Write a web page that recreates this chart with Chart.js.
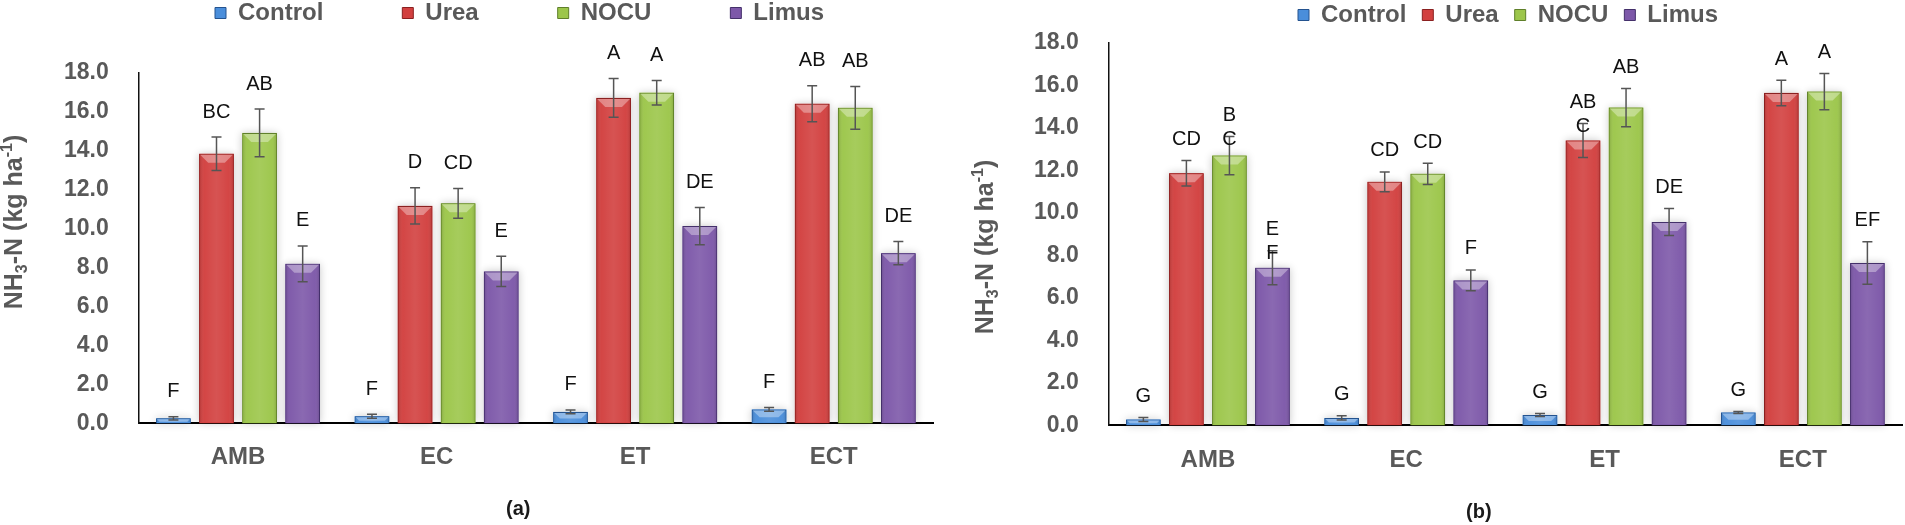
<!DOCTYPE html>
<html>
<head>
<meta charset="utf-8">
<script src="https://cdn.jsdelivr.net/npm/chart.js@4.4.1/dist/chart.umd.min.js"></script>
<style>
body { margin: 0; background: #fff; width: 1905px; height: 525px; overflow: hidden; position: relative; font-family: "Liberation Sans", Arial, sans-serif; }
canvas { position: absolute; top: 0; }
#chartA { left: 0; }
#chartB { left: 955px; }
.cap { position: absolute; font-weight: bold; font-size: 20px; color: #1a1a1a; }
</style>
</head>
<body>
<canvas id="chartA" width="950" height="525"></canvas>
<canvas id="chartB" width="950" height="525"></canvas>
<div class="cap" style="left:506px;top:497px">(a)</div>
<div class="cap" style="left:1466px;top:500px">(b)</div>
<script>
const categories = ['AMB', 'EC', 'ET', 'ECT']
const seriesNames = ['Control', 'Urea', 'NOCU', 'Limus']

// (a)
const controlA = [0.25, 0.36, 0.58, 0.71]
const ureaA = [13.85, 11.17, 16.72, 16.42]
const nocuA = [14.92, 11.3, 16.99, 16.21]
const limusA = [8.19, 7.8, 10.13, 8.74]
const controlErrA = [0.08, 0.1, 0.1, 0.1]
const ureaErrA = [0.86, 0.93, 1.0, 0.92]
const nocuErrA = [1.23, 0.76, 0.63, 1.1]
const limusErrA = [0.92, 0.78, 0.96, 0.6]
const controlLetA = ['F', 'F', 'F', 'F']
const ureaLetA = ['BC', 'D', 'A', 'AB']
const nocuLetA = ['AB', 'CD', 'A', 'AB']
const limusLetA = ['E', 'E', 'DE', 'DE']

// (b)
const controlB = [0.27, 0.34, 0.48, 0.6]
const ureaB = [11.87, 11.46, 13.41, 15.65]
const nocuB = [12.7, 11.84, 14.96, 15.71]
const limusB = [7.41, 6.82, 9.57, 7.64]
const controlErrB = [0.09, 0.1, 0.07, 0.05]
const ureaErrB = [0.6, 0.47, 0.8, 0.6]
const nocuErrB = [0.9, 0.5, 0.9, 0.85]
const limusErrB = [0.8, 0.49, 0.64, 1.0]
const controlLetB = ['G', 'G', 'G', 'G']
const ureaLetB = ['CD', 'CD', 'AB\nC', 'A']
const nocuLetB = ['B\nC', 'CD', 'AB', 'A']
const limusLetB = ['E\nF', 'F', 'DE', 'EF']

const yMin = 0, yMax = 18, yStep = 2

const fills = ['#4a8edb', '#d2403f', '#9cc64a', '#7d58a9']
const edges = ['#24538f', '#8a2020', '#5f7f2a', '#44306a']
const fontName = '"Liberation Sans", Arial, sans-serif'

Chart.defaults.font.family = fontName

function barBox (bar) {
    const p = bar.getProps(['x', 'y', 'base', 'width'], true)
    return {l: p.x - p.width / 2, r: p.x + p.width / 2, t: Math.min(p.y, p.base), b: Math.max(p.y, p.base), x: p.x, w: p.width}
}

// Excel-ish look: soft shadow, bevelled top, error bars and letters
const barLook = {
    id: 'barLook',
    beforeDatasetsDraw (chart) {
        const ctx = chart.ctx
        chart.data.datasets.forEach((ds, di) => {
            chart.getDatasetMeta(di).data.forEach(bar => {
                const b = barBox(bar)
                ctx.save()
                ctx.shadowColor = 'rgba(0,0,0,0.22)'
                ctx.shadowBlur = 8
                ctx.fillStyle = fills[di]
                ctx.fillRect(b.l, b.t, b.w, b.b - b.t)
                ctx.restore()
            })
        })
    },
    afterDatasetsDraw (chart, args, opts) {
        const ctx = chart.ctx
        const yScale = chart.scales.y
        chart.data.datasets.forEach((ds, di) => {
            chart.getDatasetMeta(di).data.forEach((bar, i) => {
                const b = barBox(bar)
                const hgt = b.b - b.t
                ctx.save()
                const g = ctx.createLinearGradient(b.l, 0, b.r, 0)
                g.addColorStop(0, 'rgba(0,0,0,0.16)')
                g.addColorStop(0.15, 'rgba(255,255,255,0.03)')
                g.addColorStop(0.5, 'rgba(255,255,255,0.1)')
                g.addColorStop(0.85, 'rgba(255,255,255,0.03)')
                g.addColorStop(1, 'rgba(0,0,0,0.16)')
                ctx.fillStyle = g
                ctx.fillRect(b.l + 1, b.t + 1, b.w - 2, hgt - 2)
                const h = Math.min(8, hgt / 2)
                ctx.fillStyle = 'rgba(255,255,255,0.35)'
                ctx.beginPath()
                ctx.moveTo(b.l + 1, b.t + 1)
                ctx.lineTo(b.r - 1, b.t + 1)
                ctx.lineTo(b.r - 1 - h, b.t + 1 + h)
                ctx.lineTo(b.l + 1 + h, b.t + 1 + h)
                ctx.closePath()
                ctx.fill()

                const v = ds.data[i]
                const e = opts.errors[di][i]
                const yt = yScale.getPixelForValue(v + e)
                const yb = yScale.getPixelForValue(v - e)
                ctx.strokeStyle = '#555'
                ctx.lineWidth = 1.5
                ctx.beginPath()
                ctx.moveTo(b.x, yt); ctx.lineTo(b.x, yb)
                ctx.moveTo(b.x - 5, yt); ctx.lineTo(b.x + 5, yt)
                ctx.moveTo(b.x - 5, yb); ctx.lineTo(b.x + 5, yb)
                ctx.stroke()

                ctx.fillStyle = '#111'
                ctx.font = '20px ' + fontName
                ctx.textAlign = 'center'
                ctx.textBaseline = 'middle'
                opts.letters[di][i].split('\n').forEach((line, k) => {
                    ctx.fillText(line, b.x, yt - opts.gap + k * 24)
                })
                ctx.restore()
            })
        })
    }
}

// rotated axis title with sub/superscript
const yTitle = {
    id: 'yTitle',
    afterDraw (chart, args, opts) {
        const ctx = chart.ctx
        const big = 'bold 25px ' + fontName
        const small = 'bold 16px ' + fontName
        const parts = [['NH', big, 0], ['3', small, 5], ['-N (kg ha', big, 0], ['-1', small, -10], [')', big, 0]]
        ctx.save()
        let total = 0
        parts.forEach(p => { ctx.font = p[1]; total += ctx.measureText(p[0]).width })
        ctx.translate(opts.x, opts.y)
        ctx.rotate(-Math.PI / 2)
        ctx.fillStyle = '#595959'
        ctx.textBaseline = 'alphabetic'
        let x = -total / 2
        parts.forEach(p => {
            ctx.font = p[1]
            ctx.fillText(p[0], x, 9 + p[2])
            x += ctx.measureText(p[0]).width
        })
        ctx.restore()
    }
}

// put the legend row where the original has it
const legendSpot = {
    id: 'legendSpot',
    afterLayout (chart, args, opts) {
        const lg = chart.legend
        const pad = chart.options.plugins.legend.labels.padding
        lg.left = opts.x - pad
        lg.right = chart.width
        lg.top = opts.y - 12 - pad
        lg.bottom = opts.y + 20
    }
}

function makeChart (id, series, errors, letters, cfg) {
    const datasets = series.map((vals, i) => ({
        label: seriesNames[i],
        data: vals,
        backgroundColor: fills[i],
        borderColor: edges[i],
        borderWidth: 1,
        categoryPercentage: 0.868,
        barPercentage: 0.805
    }))
    return new Chart(document.getElementById(id), {
        type: 'bar',
        data: {labels: categories, datasets: datasets},
        plugins: [barLook, yTitle, legendSpot],
        options: {
            responsive: false,
            animation: false,
            devicePixelRatio: 1,
            layout: {padding: cfg.padding},
            plugins: {
                tooltip: {enabled: false},
                legend: {
                    position: 'top',
                    align: 'start',
                    maxHeight: cfg.legendHeight,
                    labels: {
                        boxWidth: 11,
                        boxHeight: 11,
                        padding: cfg.legendGap,
                        color: '#595959',
                        font: {size: 24, weight: 'bold'}
                    }
                },
                barLook: {errors: errors, letters: letters, gap: cfg.letterGap},
                yTitle: cfg.title,
                legendSpot: cfg.legend
            },
            scales: {
                x: {
                    grid: {display: false},
                    border: {display: true, color: '#000', width: 2},
                    ticks: {color: '#595959', padding: cfg.xPad, font: {size: 24, weight: 'bold'}}
                },
                y: {
                    min: yMin,
                    max: yMax,
                    grid: {display: false},
                    border: {display: true, color: '#111', width: 1.5},
                    ticks: {
                        stepSize: yStep,
                        color: '#595959',
                        padding: 22,
                        font: {size: 23, weight: 'bold'},
                        callback: v => v.toFixed(1)
                    }
                }
            }
        }
    })
}

makeChart('chartA',
    [controlA, ureaA, nocuA, limusA],
    [controlErrA, ureaErrA, nocuErrA, limusErrA],
    [controlLetA, ureaLetA, nocuLetA, limusLetA],
    {
        padding: {left: 42, right: 17, top: 0, bottom: 41},
        legendHeight: 73,
        legendGap: 79,
        letterGap: 25,
        xPad: 12,
        title: {x: 13, y: 222},
        legend: {x: 215, y: 13}
    })

makeChart('chartB',
    [controlB, ureaB, nocuB, limusB],
    [controlErrB, ureaErrB, nocuErrB, limusErrB],
    [controlLetB, ureaLetB, nocuLetB, limusLetB],
    {
        padding: {left: 57, right: 3, top: 0, bottom: 37},
        legendHeight: 43,
        legendGap: 16,
        letterGap: 21,
        xPad: 13,
        title: {x: 29, y: 247},
        legend: {x: 343, y: 15}
    })
</script>
</body>
</html>
